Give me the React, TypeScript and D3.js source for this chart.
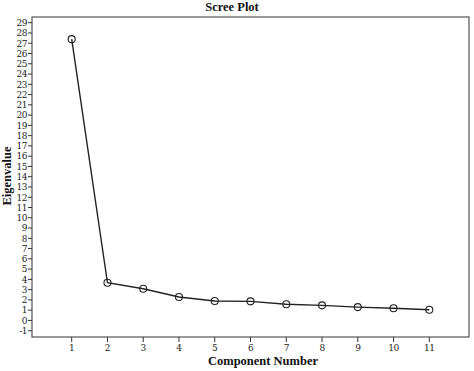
import React from "react";
import * as d3 from "d3";

const components = [1, 2, 3, 4, 5, 6, 7, 8, 9, 10, 11];
const eigenvalues = [27.4, 3.67, 3.09, 2.28, 1.89, 1.86, 1.57, 1.47, 1.3, 1.18, 1.04];
const yTicks = d3.range(-1, 30);
const title = "Scree Plot";
const xLabel = "Component Number";
const yLabel = "Eigenvalue";

export default function App() {
  const W = 474, H = 371;
  const left = 32, right = 469, top = 17, bottom = 337;
  const x = d3.scaleLinear().domain([1 - 1.11, 11 + 1.11]).range([left, right]);
  const y = d3.scaleLinear().domain([-1, 29]).range([330.7, 22.7]);
  const line = d3.line<number>().x((_, i) => x(components[i])).y((d) => y(d));
  const tickFont = "'DejaVu Serif', 'Liberation Serif', serif";
  return (
    <svg width={W} height={H} style={{ position: "absolute", left: 0, top: 0, background: "#fff" }}>
      <rect x={0} y={0} width={W} height={H} fill="#fff" />
      <text x={232} y={11} textAnchor="middle" fontFamily="'Liberation Serif', serif" fontWeight="bold" fontSize={12.5} fill="#111">{title}</text>
      <rect x={left} y={top} width={right - left} height={bottom - top} fill="none" stroke="#555" strokeWidth={1.2} />
      {yTicks.map((t) => (
        <g key={t}>
          <line x1={left - 4} x2={left} y1={y(t)} y2={y(t)} stroke="#333" strokeWidth={1} />
          <text x={left - 5} y={y(t) + 3.3} textAnchor="end" fontFamily={tickFont} fontSize={9} fill="#222" style={{ letterSpacing: "-0.5px" }}>{t}</text>
        </g>
      ))}
      {components.map((c) => (
        <g key={c}>
          <line x1={x(c)} x2={x(c)} y1={bottom} y2={bottom + 5} stroke="#333" strokeWidth={1} />
          <text x={x(c)} y={bottom + 13.5} textAnchor="middle" fontFamily={tickFont} fontSize={9} fill="#222" style={{ letterSpacing: "-0.5px" }}>{c}</text>
        </g>
      ))}
      <path d={line(eigenvalues) || ""} fill="none" stroke="#222" strokeWidth={1.4} />
      {eigenvalues.map((v, i) => (
        <circle key={i} cx={x(components[i])} cy={y(v)} r={3.5} fill="#fff" fillOpacity={0} stroke="#222" strokeWidth={1.1} />
      ))}
      <text x={263} y={365} textAnchor="middle" fontFamily="'Liberation Serif', serif" fontWeight="bold" fontSize={12.5} fill="#111">{xLabel}</text>
      <text transform={`translate(11, 176) rotate(-90)`} textAnchor="middle" fontFamily="'Liberation Serif', serif" fontWeight="bold" fontSize={12.5} fill="#111">{yLabel}</text>
    </svg>
  );
}
